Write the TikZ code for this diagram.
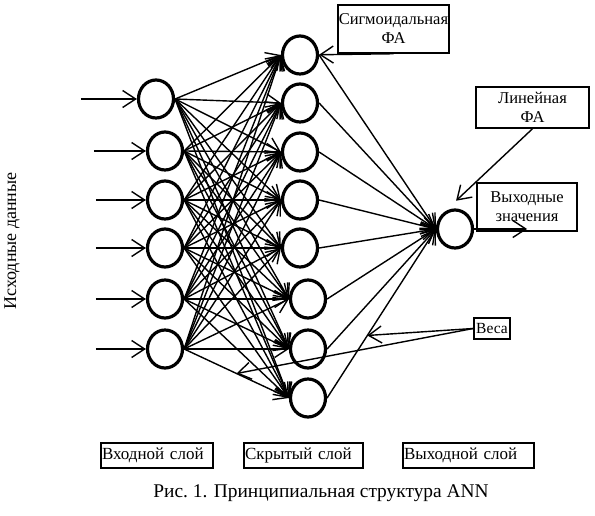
\documentclass[tikz,border=0pt]{standalone}
\usepackage{fontspec}
\setmainfont{Liberation Serif}
\usetikzlibrary{arrows.meta,shapes.geometric,calc}

\tikzset{
  neuron/.style={ellipse, draw, line width=3.2pt, minimum width=35pt, minimum height=38pt, inner sep=0pt},
  conn/.style={line width=1.4pt, -{Straight Barb[length=13pt,width=17pt]}},
  labelbox/.style={draw, line width=1.5pt, inner sep=1pt, align=center, font=\fontsize{16.5}{19}\selectfont},
  layerbox/.style={draw, line width=1.5pt, minimum height=25pt, inner xsep=1pt, align=left, font=\fontsize{17}{17}\selectfont}
}

\begin{document}
\begin{tikzpicture}[x=1pt,y=-1pt]
    \useasboundingbox (0,0) rectangle (595,516);
    % Input layer
    \foreach \i/\x/\y in {1/156/99,2/165/151,3/165/200,4/165/248,5/165/299,6/165/349}{
        \node[neuron] (in\i) at (\x,\y) {};
    }
    % Hidden layer
    \foreach \j/\x/\y in {1/300/55,2/300/103,3/300/152,4/300/200,5/300/248,6/308/299,7/308/349,8/308/398}{
        \node[neuron] (h\j) at (\x,\y) {};
    }
    % Output neuron
    \node[neuron] (out) at (455,229) {};
    % Incoming data arrows
    \foreach \i/\d in {1/56,2/52,3/50,4/50,5/50,6/50}{
        \coordinate (src\i) at ([xshift=-\d pt]in\i.west);
        \draw[conn] (src\i) -- (in\i.west);
    }
    % Weights: input -> hidden
    \foreach \i in {1,...,6}{
        \foreach \j in {1,...,8}{
            \draw[conn] (in\i.east) -- (h\j.west);
        }
    }
    % Weights: hidden -> output
    \foreach \j in {1,...,8}{
        \draw[conn] (h\j.east) -- (out.west);
    }
    % Output value
    \coordinate (res) at ([xshift=53pt]out.east);
    \draw[conn] (out.east) -- (res);
    % Labels
    \node[rotate=90, font=\fontsize{18}{18}\selectfont] (indata) at (12,241) {Исходные данные};
    \node[labelbox, minimum width=111pt, minimum height=48pt] (sig) at (393.5,29) {Сигмоидальная\\ФА};
    \node[labelbox, minimum width=113pt, minimum height=41pt] (lin) at (532.5,107.5) {Линейная\\ФА};
    \node[labelbox, minimum width=100pt, minimum height=48pt] (outval) at (527,207) {Выходные\\значения};
    \node[labelbox, font=\fontsize{15.5}{15.5}\selectfont, minimum width=36pt, minimum height=21pt] (ves) at (492,328.5) {Веса};
    \draw[conn] (sig.south) -- (h1);
    \draw[conn, shorten >=20pt] (lin.south) -- (out.north west);
    \coordinate (w1) at ($(h8.east)!0.37!(out.west)$);
    \coordinate (w2) at ($(in6.east)!0.5!(h8.west)$);
    \draw[conn] (ves.west) -- (w1);
    \draw[conn] (ves.west) -- (w2);
    % Layer names
    \node[layerbox, text width=110pt] (inlayer) at (157,455.5) {Входной слой};
    \node[layerbox, text width=117pt] (hidlayer) at (303.5,455.5) {Скрытый слой};
    \node[layerbox, text width=129pt] (outlayer) at (468.5,455.5) {Выходной слой};
    % Caption
    \node[font=\fontsize{19.4}{19.4}\selectfont] (caption) at (321,493) {Рис.~1. Принципиальная структура ANN};
\end{tikzpicture}
\end{document}
